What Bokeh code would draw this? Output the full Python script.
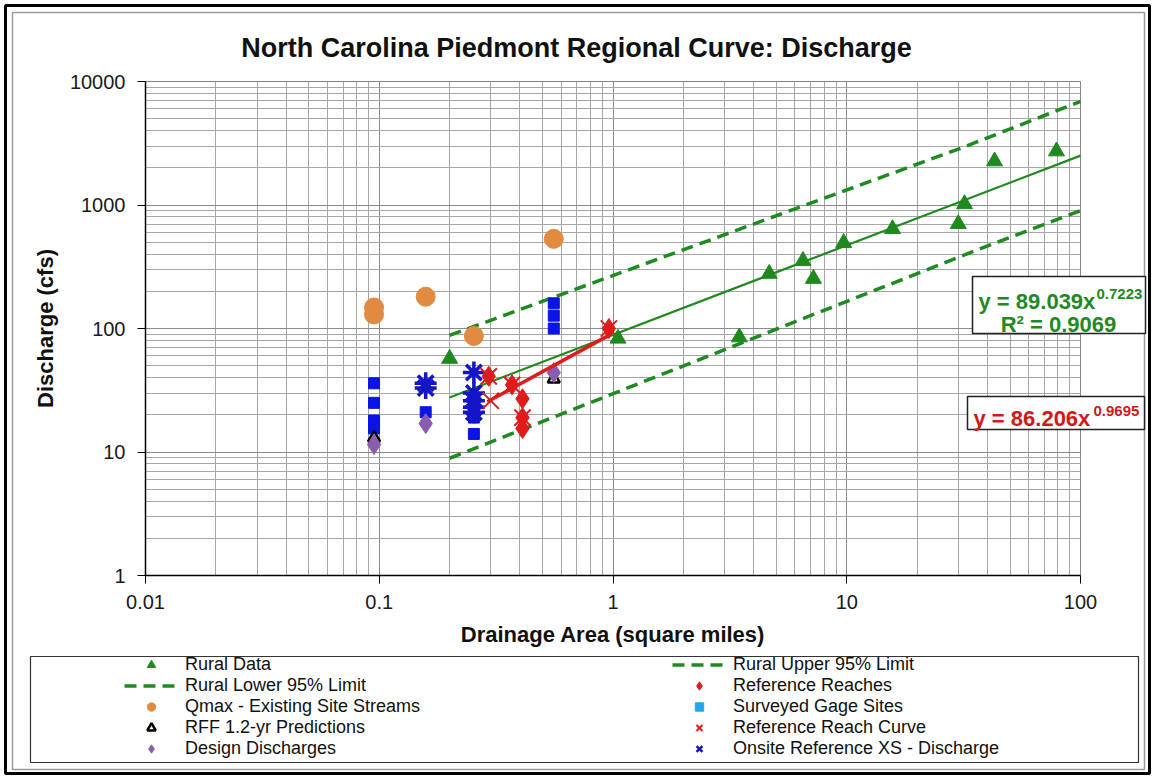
from bokeh.plotting import figure
from bokeh.models import (FixedTicker, CustomJSTickFormatter, Label, BoxAnnotation,
                          Legend, LegendItem, Range1d)
from bokeh.embed import file_html
from bokeh.resources import INLINE

FONT = "Liberation Sans"

# ---------------- data ----------------
rural_x = [0.2, 1.05, 3.47, 4.66, 6.5, 7.2, 9.7, 15.7, 30, 31.9, 42.9, 78.9]
rural_y = [57, 83, 85, 278, 353, 253, 494, 640, 703, 1018, 2263, 2725]

rural_fit_x = [0.2, 100]
rural_fit_y = [27.6, 2510]

upper_x = [0.2, 31.3, 100]
upper_y = [88, 2920, 6900]
lower_x = [0.2, 33.8, 100]
lower_y = [8.9, 412, 900]

qmax_x = [0.095, 0.095, 0.158, 0.254, 0.558]
qmax_y = [148, 130, 181, 87, 532]

gage_x = [0.095, 0.095, 0.095, 0.095, 0.158, 0.254, 0.254, 0.254, 0.254, 0.558, 0.558, 0.558]
gage_y = [36, 25, 18, 15.5, 21, 24, 21, 19, 14, 160, 127, 100]

design_x = [0.095, 0.158, 0.558]
design_y = [11.5, 17, 44]

rff_x = [0.095, 0.558]
rff_y = [13, 39]

refreach_x = [0.294, 0.37, 0.41, 0.41, 0.41, 0.96]
refreach_y = [41, 35, 27, 19, 15.5, 100]

refcurve_pts_x = [0.294, 0.30, 0.37, 0.41, 0.96]
refcurve_pts_y = [41, 26, 35, 19, 100]
refcurve_line_x = [0.29, 0.96]
refcurve_line_y = [25.5, 88]

onsite_x = [0.158, 0.158, 0.254, 0.254, 0.254, 0.254, 0.254]
onsite_y = [36, 33, 44, 30, 26, 23, 21]

x_major = [0.01, 0.1, 1, 10, 100]
y_major = [1, 10, 100, 1000, 10000]
x_minor = [m * 10.0 ** e for e in range(-2, 2) for m in range(2, 10)]
y_minor = [m * 10.0 ** e for e in range(0, 4) for m in range(2, 10)]

GREEN = "#1f8a1f"
GREEN_T = "#1e8a1e"
RED = "#e01b1b"
ORANGE = "#e08a42"
BLUE = "#0a14e6"
DBLUE = "#1515c8"
PURPLE = "#8a5cb0"
LBLUE = "#22a7e8"

# ---------------- layout geometry ----------------
W, H = 1154, 778
BOX_L, BOX_R = 145, 1080      # pixel of x=0.01 and x=100
BOX_T, BOX_B = 81, 575        # pixel of y=10000 and y=1
dec_x = (BOX_R - BOX_L) / 4.0
dec_y = (BOX_B - BOX_T) / 4.0
x_lo = 10 ** (-2 - BOX_L / dec_x)
x_hi = 10 ** (2 + (W - BOX_R) / dec_x)
y_lo = 10 ** (0 - (H - BOX_B) / dec_y)
y_hi = 10 ** (4 + BOX_T / dec_y)

p = figure(width=W, height=H, x_axis_type="log", y_axis_type="log",
           x_range=Range1d(x_lo, x_hi), y_range=Range1d(y_lo, y_hi),
           output_backend="svg", toolbar_location=None,
           min_border_left=0, min_border_right=0,
           min_border_top=0, min_border_bottom=0)
p.title.visible = False
p.background_fill_color = "white"
p.border_fill_color = "white"
p.outline_line_color = None

for ax, maj, mnr in ((p.xaxis, x_major, x_minor), (p.yaxis, y_major, y_minor)):
    ax.ticker = FixedTicker(ticks=maj, minor_ticks=mnr)
    ax.formatter = CustomJSTickFormatter(code="return tick.toString();")
    ax.major_label_text_font = FONT
    ax.major_label_text_font_size = "20px"
    ax.major_label_text_color = "#1a1a1a"
    ax.major_tick_out = 8
    ax.major_tick_in = 0
    ax.minor_tick_out = 0
    ax.minor_tick_in = 0
    ax.axis_line_color = "black"
    ax.axis_line_width = 1.5
    ax.major_tick_line_color = "black"
    ax.axis_label_text_font = FONT
    ax.axis_label_text_font_style = "bold"
    ax.axis_label_text_font_size = "22px"
    ax.axis_label_text_color = "#111111"

p.xaxis.fixed_location = 1
p.xaxis.bounds = (0.01, 100)
p.yaxis.fixed_location = 0.01
p.yaxis.bounds = (1, 10000)
p.xaxis.axis_label = "Drainage Area (square miles)"
p.yaxis.axis_label = "Discharge (cfs)"
p.xaxis.major_label_standoff = 11
p.yaxis.major_label_standoff = 12
p.xaxis.axis_label_standoff = 10
p.yaxis.axis_label_standoff = 9

p.xgrid.cross_bounds = (1, 10000)
p.ygrid.cross_bounds = (0.01, 100)
for g in (p.xgrid, p.ygrid):
    g.grid_line_color = "#8a8a8a"
    g.grid_line_width = 1
    g.minor_grid_line_color = "#a6a6a6"
    g.minor_grid_line_width = 1

# plot-area outline (top / right grey)
p.add_layout(BoxAnnotation(left=0.01, right=100, bottom=1, top=10000, fill_alpha=0,
                           line_color="#808080", line_width=1, level="underlay"))

# ---------------- series ----------------
r_upper = p.line(upper_x, upper_y, line_color=GREEN, line_width=3.5, line_dash="12 7")
r_lower = p.line(lower_x, lower_y, line_color=GREEN, line_width=3.5, line_dash="12 7")
r_fit = p.line(rural_fit_x, rural_fit_y, line_color=GREEN, line_width=2.2)

r_qmax = p.scatter(qmax_x, qmax_y, marker="circle", size=19, fill_color=ORANGE, line_color=ORANGE)
r_gage = p.scatter(gage_x, gage_y, marker="square", size=11, fill_color=BLUE, line_color=BLUE)
r_rff = p.scatter(rff_x, rff_y, marker="triangle", size=12, fill_color="#fff8d0",
                  line_color="black", line_width=2.5)
r_design = p.scatter(design_x, design_y, marker="diamond", size=20, fill_color=PURPLE,
                     line_color=PURPLE)
r_onsite = p.scatter(onsite_x, onsite_y, marker="asterisk", size=22, line_color=DBLUE,
                     line_width=3.5)
r_refline = p.line(refcurve_line_x, refcurve_line_y, line_color=RED, line_width=3.5)
r_refreach = p.scatter(refreach_x, refreach_y, marker="diamond", size=20, fill_color=RED,
                       line_color=RED)
r_refcurve = p.scatter(refcurve_pts_x, refcurve_pts_y, marker="x", size=23, line_color=RED,
                       line_width=2)
r_rural = p.scatter(rural_x, rural_y, marker="triangle", size=16, fill_color=GREEN_T,
                    line_color=GREEN_T)

# legend-only proxies (muted in the plot, so only their legend swatch shows)
r_gage_leg = p.scatter(gage_x[:1], gage_y[:1], marker="square", fill_color=LBLUE,
                       line_color=LBLUE, muted_alpha=0)
r_gage_leg.muted = True
r_onsite_leg = p.scatter(onsite_x[:1], onsite_y[:1], marker="x", line_color=DBLUE,
                         line_width=2.5, muted_alpha=0)
r_onsite_leg.muted = True

# ---------------- screen-unit helpers (canvas pixels, y from top) ----------------
def sbox(l, r, t, b, color, width, fill=None):
    return BoxAnnotation(left=l, right=r, top=H - t, bottom=H - b,
                         left_units="screen", right_units="screen",
                         top_units="screen", bottom_units="screen",
                         fill_color=fill if fill else "white",
                         fill_alpha=1 if fill else 0,
                         line_color=color, line_width=width, line_alpha=1)

def lab(x, y, text, size, color, align="left", baseline="alphabetic", style="bold"):
    return Label(x=x, y=H - y, x_units="screen", y_units="screen", text=text,
                 text_font=FONT, text_font_size=size, text_font_style=style,
                 text_color=color, text_align=align, text_baseline=baseline)

# outer frames
p.add_layout(sbox(5, 1149, 5, 773, "black", 3))
p.add_layout(sbox(12, 1144, 12, 769, "#9a9a9a", 1.5))
# legend frame
p.add_layout(sbox(30, 1138, 656, 762, "#333333", 1.2))

legend = Legend(items=[
    LegendItem(label="Rural Data", renderers=[r_rural]),
    LegendItem(label="Rural Lower 95% Limit", renderers=[r_lower]),
    LegendItem(label="Qmax - Existing Site Streams", renderers=[r_qmax]),
    LegendItem(label="RFF 1.2-yr Predictions", renderers=[r_rff]),
    LegendItem(label="Design Discharges", renderers=[r_design]),
    LegendItem(label="Rural Upper 95% Limit", renderers=[r_upper]),
    LegendItem(label="Reference Reaches", renderers=[r_refreach]),
    LegendItem(label="Surveyed Gage Sites", renderers=[r_gage_leg]),
    LegendItem(label="Reference Reach Curve", renderers=[r_refcurve]),
    LegendItem(label="Onsite Reference XS - Discharge", renderers=[r_onsite_leg]),
], ncols=2, location=(124, H - 758.5))
legend.label_text_font = FONT
legend.label_text_font_size = "18px"
legend.label_text_color = "#111111"
legend.glyph_width = 54
legend.glyph_height = 21
legend.label_height = 21
legend.spacing = 0
legend.label_standoff = 7
legend.label_width = 487
legend.padding = 0
legend.border_line_alpha = 0
legend.background_fill_alpha = 0
p.add_layout(legend, "center")

# equation boxes
p.add_layout(sbox(972, 1145, 276, 333, "#222222", 1.5, fill="white"))
p.add_layout(sbox(967, 1144, 396, 429, "#222222", 1.5, fill="white"))

EQG = "#1f8a1f"
EQR = "#d01818"
p.add_layout(lab(978, 301, "y = 89.039x", "22px", EQG))
p.add_layout(lab(1096, 293, "0.7223", "15px", EQG))
p.add_layout(lab(1058, 324, "R\u00b2 = 0.9069", "22px", EQG, align="center"))
p.add_layout(lab(973, 418, "y = 86.206x", "22px", EQR))
p.add_layout(lab(1093, 410, "0.9695", "15px", EQR))

# title
p.add_layout(lab(576, 47, "North Carolina Piedmont Regional Curve: Discharge", "27px",
                 "#111111", align="center", baseline="middle"))

open("out.html", "w").write(file_html(p, INLINE))
